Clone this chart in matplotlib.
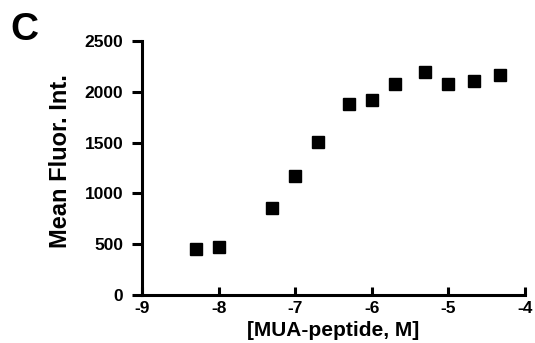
import numpy as np
import matplotlib
matplotlib.use('Agg')
import matplotlib.pyplot as plt

# log10 of peptide concentration (M) and mean fluorescence intensity
log_conc = [-8.3, -8.0, -7.3, -7.0, -6.7, -6.3, -6.0, -5.7, -5.3, -5.0, -4.67, -4.33]
fluor = [455, 475, 860, 1175, 1510, 1880, 1915, 2080, 2190, 2080, 2110, 2165]

x_ticks = [-9, -8, -7, -6, -5, -4]
y_ticks = [0, 500, 1000, 1500, 2000, 2500]

plt.rcParams['font.family'] = ['Liberation Sans', 'DejaVu Sans']
plt.rcParams['font.weight'] = 'bold'

fig = plt.figure(figsize=(5.35, 3.43), dpi=100)
ax = fig.add_axes([142 / 535, 48 / 343, 383 / 535, 254 / 343])

ax.plot(log_conc, fluor, 's', color='black', markersize=8, clip_on=False)

ax.set_xlim(-9, -4)
ax.set_ylim(0, 2500)
ax.set_xticks(x_ticks)
ax.set_yticks(y_ticks)
ax.set_xticklabels([str(t) for t in x_ticks])

for side in ['top', 'right']:
    ax.spines[side].set_visible(False)
for side in ['left', 'bottom']:
    ax.spines[side].set_linewidth(2.2)

ax.tick_params(axis='x', direction='in', length=6, width=2.2, pad=4, labelsize=12.5)
ax.tick_params(axis='y', direction='out', length=7, width=2.2, pad=6.5, labelsize=12.5)
for lab in ax.get_xticklabels() + ax.get_yticklabels():
    lab.set_fontweight('bold')

ax.set_xlabel('[MUA-peptide, M]', fontsize=15, fontweight='bold', va='center')
ax.set_ylabel('Mean Fluor. Int.', fontsize=17, fontweight='bold', va='center')
ax.xaxis.set_label_coords(0.5, -0.138)
ax.yaxis.set_label_coords(-0.214, 0.527)

fig.text(24 / 535, 1 - 30 / 343, 'C', fontsize=28, fontweight='bold', ha='center', va='center')

plt.savefig('out.png', dpi=100)
